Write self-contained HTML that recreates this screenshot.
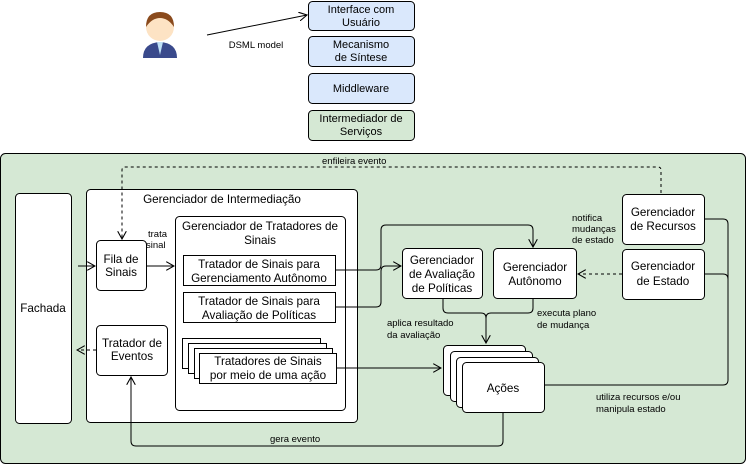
<!DOCTYPE html>
<html><head><meta charset="utf-8"><style>
body{margin:0;background:#fff;}
svg{display:block;font-family:"Liberation Sans",sans-serif;}
</style></head><body>
<svg width="746" height="465" viewBox="0 0 746 465" xmlns="http://www.w3.org/2000/svg">
<defs>
<marker id="a" viewBox="0 0 10 10" refX="9" refY="5" markerWidth="9" markerHeight="9" orient="auto" markerUnits="userSpaceOnUse"><path d="M0,0 L9,5 L0,10" fill="none" stroke="#000" stroke-width="1.2"/></marker>
</defs>
<g>
<path d="M143,58 Q143,43 160,42 Q177,43 177,58 Z" fill="#3a4a8c"/>
<path d="M157,42 L160,55 L163,42 Z" fill="#bfe0f5"/>
<circle cx="160" cy="27" r="14" fill="#fde3c4"/>
<path d="M146,27 Q146,12 160,12 Q174,12 174,27 Q168,18 160,18 Q152,18 146,27 Z" fill="#8a4a1c"/>
</g>
<line x1="207" y1="35" x2="307" y2="15" stroke="#000" marker-end="url(#a)"/>
<text x="256" y="48" font-size="9.5" text-anchor="middle">DSML model</text>
<g stroke="#000">
<rect x="308.5" y="1.5" width="106" height="29" rx="4" fill="#dae8fc"/>
<rect x="308.5" y="36.5" width="106" height="30" rx="4" fill="#dae8fc"/>
<rect x="308.5" y="73.5" width="106" height="30" rx="4" fill="#dae8fc"/>
<rect x="308.5" y="110.5" width="106" height="30" rx="4" fill="#d5e8d4"/>
</g>
<g font-size="11" text-anchor="middle">
<text x="361" y="13">Interface com</text><text x="361" y="26">Usuário</text>
<text x="361" y="48">Mecanismo</text><text x="361" y="61">de Síntese</text>
<text x="361" y="92">Middleware</text>
<text x="361" y="122">Intermediador de</text><text x="361" y="135">Serviços</text>
</g>
<rect x="0.5" y="153.5" width="745" height="310" rx="5" fill="#d5e8d4" stroke="#000"/>
<g stroke="#000" fill="#fff">
<rect x="15.5" y="193.5" width="56" height="230" rx="4"/>
<rect x="86.5" y="189.5" width="271" height="233" rx="4"/>
<rect x="96.5" y="240.5" width="50" height="50" rx="4"/>
<rect x="96.5" y="325.5" width="71" height="50" rx="4"/>
<rect x="175.5" y="216.5" width="170" height="194" rx="4"/>
<rect x="183.5" y="255.5" width="152" height="30"/>
<rect x="183.5" y="292.5" width="152" height="30"/>
<rect x="182.5" y="338.5" width="138" height="30"/>
<rect x="188.5" y="343.5" width="138" height="30"/>
<rect x="194.5" y="348.5" width="138" height="30"/>
<rect x="199.5" y="353.5" width="137" height="30"/>
<rect x="402.5" y="248.5" width="80" height="50" rx="4"/>
<rect x="493.5" y="248.5" width="83" height="50" rx="4"/>
<rect x="622.5" y="194.5" width="82" height="50" rx="4"/>
<rect x="622.5" y="249.5" width="82" height="50" rx="4"/>
<rect x="443.5" y="345.5" width="82" height="50" rx="4"/>
<rect x="450.5" y="351.5" width="82" height="50" rx="4"/>
<rect x="456.5" y="357.5" width="82" height="50" rx="4"/>
<rect x="462.5" y="362.5" width="82" height="50" rx="4"/>
</g>
<g font-size="11.7" text-anchor="middle">
<text x="43" y="312">Fachada</text>
<text x="222" y="203">Gerenciador de Intermediação</text>
<text x="121" y="263">Fila de</text><text x="121" y="276">Sinais</text>
<text x="132" y="347">Tratador de</text><text x="132" y="360">Eventos</text>
<text x="260" y="230">Gerenciador de Tratadores de</text><text x="260" y="244">Sinais</text>
<text x="259" y="268">Tratador de Sinais para</text><text x="259" y="282">Gerenciamento Autônomo</text>
<text x="259" y="305">Tratador de Sinais para</text><text x="259" y="319">Avaliação de Políticas</text>
<text x="268" y="365">Tratadores de Sinais</text><text x="268" y="379">por meio de uma ação</text>
<text x="442" y="264">Gerenciador</text><text x="442" y="278">de Avaliação</text><text x="442" y="292">de Políticas</text>
<text x="535" y="271">Gerenciador</text><text x="535" y="285">Autônomo</text>
<text x="663" y="216">Gerenciador</text><text x="663" y="230">de Recursos</text>
<text x="663" y="270">Gerenciador</text><text x="663" y="285">de Estado</text>
<text x="503" y="392">Ações</text>
</g>
<g fill="none" stroke="#000">
<path d="M661,193 V170 Q661,167 658,167 H125 Q122,167 122,170 V239" stroke-dasharray="3,3" marker-end="url(#a)"/>
<path d="M78,266 H95" marker-end="url(#a)"/>
<path d="M146,266 H174" marker-end="url(#a)"/>
<path d="M96,350 H77" stroke-dasharray="3,3" marker-end="url(#a)"/>
<path d="M335,270 H376 Q381,270 381,265 V230 Q381,225 386,225 H528 Q533,225 533,230 V247" marker-end="url(#a)"/>
<path d="M335,307 H376 Q381,307 381,302 V271 Q381,266 386,266 H401" marker-end="url(#a)"/>
<path d="M336,368 H441" marker-end="url(#a)"/>
<path d="M443,298 V308 Q443,313 448,313 H481 Q486,313 486,318 V343" marker-end="url(#a)"/>
<path d="M533,298 V308 Q533,313 528,313 H491 Q486,313 486,318"/>
<path d="M622,274 H578" stroke-dasharray="3,3" marker-end="url(#a)"/>
<path d="M704,219 H723 Q728,219 728,224 V380 Q728,385 723,385 H544"/>
<path d="M704,274 H723 Q728,274 728,279"/>
<path d="M503,412 V441 Q503,446 498,446 H136 Q131,446 131,441 V377" marker-end="url(#a)"/>
</g>
<g font-size="9.5">
<text x="322" y="164">enfileira evento</text>
<text x="148" y="237">trata</text><text x="146" y="248">sinal</text>
<text x="572" y="221">notifica</text><text x="572" y="232">mudanças</text><text x="572" y="243">de estado</text>
<text x="387" y="326">aplica resultado</text><text x="387" y="338">da avaliação</text>
<text x="537" y="316">executa plano</text><text x="537" y="328">de mudança</text>
<text x="596" y="400">utiliza recursos e/ou</text><text x="596" y="412">manipula estado</text>
<text x="270" y="442">gera evento</text>
</g>
</svg>
</body></html>
